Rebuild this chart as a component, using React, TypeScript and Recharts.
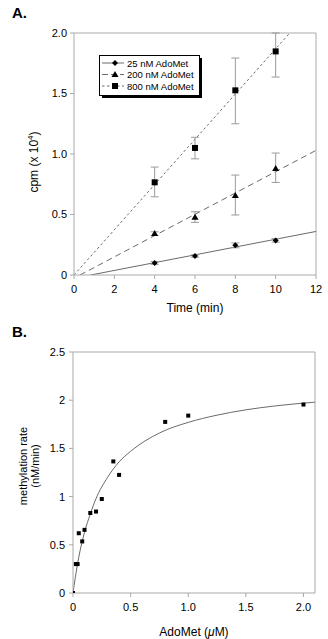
import React from "react";
import {
  ComposedChart,
  Scatter,
  Line,
  XAxis,
  YAxis,
  ErrorBar,
  ReferenceLine,
  Legend,
} from "recharts";

const FONT = "'Liberation Sans', Arial, Helvetica, sans-serif";
const AXIS_COLOR = "#a9a9a9";
const FIT_COLOR = "#6a6a6a";
const ERR_COLOR = "#9a9a9a";

// ---- Panel A: time course ----
const times = [4, 6, 8, 10];
const cpm25 = [0.1, 0.157, 0.245, 0.286];
const err25 = [0.012, 0.01, 0.02, 0.015];
const cpm200 = [0.342, 0.477, 0.656, 0.88];
const err200Lo = [0.015, 0.042, 0.16, 0.115];
const err200Hi = [0.015, 0.046, 0.17, 0.128];
const cpm800 = [0.766, 1.05, 1.526, 1.848];
const err800Lo = [0.12, 0.09, 0.276, 0.212];
const err800Hi = [0.126, 0.088, 0.267, 0.152];

const fit25Time = [0.83, 12];
const fit25Cpm = [0, 0.36];
const fit200Time = [0.3, 12];
const fit200Cpm = [0, 1.03];
const fit800Time = [0, 10.7];
const fit800Cpm = [0, 2.0];

const timeTicks = [0, 2, 4, 6, 8, 10, 12];
const cpmTicks = [0, 0.5, 1, 1.5, 2];

// ---- Panel B: saturation ----
const adoMet = [0, 0.025, 0.04, 0.05, 0.08, 0.1, 0.15, 0.2, 0.25, 0.35, 0.4, 0.8, 1.0, 2.0];
const rate = [0, 0.3, 0.3, 0.62, 0.535, 0.655, 0.83, 0.845, 0.975, 1.365, 1.225, 1.775, 1.84, 1.955];
const curveAdoMet = [0, 0.02, 0.05, 0.1, 0.15, 0.2, 0.3, 0.4, 0.5, 0.75, 1.0, 1.25, 1.5, 1.75, 2.1];
const curveRate = [0, 0.16, 0.37, 0.63, 0.82, 0.98, 1.2, 1.36, 1.47, 1.66, 1.77, 1.845, 1.9, 1.94, 1.98];

const adoTicks = [0, 0.5, 1, 1.5, 2];
const rateTicks = [0, 0.5, 1, 1.5, 2, 2.5];

const points = (xs: number[], ys: number[], lo?: number[], hi?: number[]) =>
  xs.map((x, i) => ({ x, y: ys[i], err: lo ? [lo[i], (hi ?? lo)[i]] : 0 }));

const data25 = points(times, cpm25, err25);
const data200 = points(times, cpm200, err200Lo, err200Hi);
const data800 = points(times, cpm800, err800Lo, err800Hi);
const line25 = points(fit25Time, fit25Cpm);
const line200 = points(fit200Time, fit200Cpm);
const line800 = points(fit800Time, fit800Cpm);
const dataB = points(adoMet, rate);
const curveB = points(curveAdoMet, curveRate);

const Diamond = (p: any) => (
  <polygon
    points={`${p.cx},${p.cy - 3} ${p.cx + 3},${p.cy} ${p.cx},${p.cy + 3} ${p.cx - 3},${p.cy}`}
    fill="#000"
  />
);
const Triangle = (p: any) => (
  <polygon
    points={`${p.cx},${p.cy - 3.5} ${p.cx + 3.5},${p.cy + 2.5} ${p.cx - 3.5},${p.cy + 2.5}`}
    fill="#000"
  />
);
const Square = (p: any) => <rect x={p.cx - 3} y={p.cy - 3} width={6} height={6} fill="#000" />;
const SmallSquare = (p: any) => <rect x={p.cx - 2} y={p.cy - 2} width={4} height={4} fill="#000" />;

const legendRows = [
  { name: "25 nM AdoMet", dash: undefined, Mark: Diamond },
  { name: "200 nM AdoMet", dash: "6 3", Mark: Triangle },
  { name: "800 nM AdoMet", dash: "2.5 2.5", Mark: Square },
];

function LegendBox() {
  return (
    <svg width={106} height={45} style={{ display: "block" }}>
      <rect x={3} y={3} width={100} height={40} fill="#000" />
      <rect x={0.5} y={0.5} width={100} height={40} fill="#fff" stroke="#000" />
      {legendRows.map((r, i) => {
        const y = 8 + i * 11.5;
        return (
          <g key={r.name}>
            <line x1={3} x2={25} y1={y} y2={y} stroke={FIT_COLOR} strokeDasharray={r.dash} />
            <r.Mark cx={16} cy={y} />
            <text x={28} y={y + 3.5} fontSize={9.5} fontFamily={FONT} fill="#000">
              {r.name}
            </text>
          </g>
        );
      })}
    </svg>
  );
}

const tickStyle = { fontSize: 11, fill: "#000", fontFamily: FONT };

export default function App() {
  return (
    <div
      style={{
        position: "absolute",
        left: 0,
        top: 0,
        width: 328,
        height: 639,
        background: "#fff",
        fontFamily: FONT,
      }}
    >
      <div style={{ position: "absolute", left: 12, top: 4, fontSize: 15, fontWeight: "bold" }}>A.</div>
      <div style={{ position: "absolute", left: 12, top: 323, fontSize: 15, fontWeight: "bold" }}>B.</div>

      <div style={{ position: "absolute", left: 0, top: 0 }}>
        <ComposedChart width={328} height={320} margin={{ top: 33, right: 12, bottom: 5, left: 0 }}>
          <XAxis
            type="number"
            dataKey="x"
            domain={[0, 12]}
            ticks={timeTicks}
            height={40}
            tick={tickStyle}
            tickSize={4}
            tickMargin={6}
            stroke={AXIS_COLOR}
            allowDataOverflow
            label={() => (
              <text x={195} y={311.5} textAnchor="middle" fontSize={12} fontFamily={FONT} fill="#000">
                Time (min)
              </text>
            )}
          />
          <YAxis
            type="number"
            dataKey="y"
            domain={[0, 2]}
            ticks={cpmTicks}
            width={74}
            tick={tickStyle}
            tickSize={4}
            tickMargin={3}
            stroke={AXIS_COLOR}
            allowDataOverflow
            tickFormatter={(v: number) => (v === 0 ? "0" : v.toFixed(1))}
            label={() => (
              <text
                x={38}
                y={162}
                transform="rotate(-90 38 162)"
                textAnchor="middle"
                fontSize={12}
                fontFamily={FONT}
                fill="#000"
              >
                cpm (x 10
                <tspan fontSize={8} dy={-5}>
                  4
                </tspan>
                <tspan dy={5}>)</tspan>
              </text>
            )}
          />
          <ReferenceLine y={2} stroke={AXIS_COLOR} />
          <ReferenceLine x={12} stroke={AXIS_COLOR} />
          <Line data={line25} dataKey="y" type="linear" stroke={FIT_COLOR} strokeWidth={1} dot={false} isAnimationActive={false} />
          <Line data={line200} dataKey="y" type="linear" stroke={FIT_COLOR} strokeWidth={1} strokeDasharray="6 4" dot={false} isAnimationActive={false} />
          <Line data={line800} dataKey="y" type="linear" stroke={FIT_COLOR} strokeWidth={1} strokeDasharray="2.5 2.5" dot={false} isAnimationActive={false} />
          <Scatter data={data25} dataKey="y" shape={Diamond} isAnimationActive={false}>
            <ErrorBar dataKey="err" direction="y" width={4} stroke={ERR_COLOR} strokeWidth={1} />
          </Scatter>
          <Scatter data={data200} dataKey="y" shape={Triangle} isAnimationActive={false}>
            <ErrorBar dataKey="err" direction="y" width={4} stroke={ERR_COLOR} strokeWidth={1} />
          </Scatter>
          <Scatter data={data800} dataKey="y" shape={Square} isAnimationActive={false}>
            <ErrorBar dataKey="err" direction="y" width={4} stroke={ERR_COLOR} strokeWidth={1} />
          </Scatter>
          <Legend
            layout="vertical"
            align="center"
            verticalAlign="middle"
            content={() => <LegendBox />}
            wrapperStyle={{ left: 99, top: 55, width: 106, height: 45 }}
          />
        </ComposedChart>
      </div>

      <div style={{ position: "absolute", left: 0, top: 320 }}>
        <ComposedChart width={328} height={319} margin={{ top: 32, right: 13, bottom: 5, left: 0 }}>
          <XAxis
            type="number"
            dataKey="x"
            domain={[0, 2.1]}
            ticks={adoTicks}
            height={41}
            tick={tickStyle}
            tickSize={4}
            tickMargin={6}
            stroke={AXIS_COLOR}
            allowDataOverflow
            tickFormatter={(v: number) => (v === 0 ? "0" : v.toFixed(1))}
            label={() => (
              <text x={194} y={315.5} textAnchor="middle" fontSize={12} fontFamily={FONT} fill="#000">
                AdoMet (<tspan fontStyle="italic">μ</tspan>M)
              </text>
            )}
          />
          <YAxis
            type="number"
            dataKey="y"
            domain={[0, 2.5]}
            ticks={rateTicks}
            width={73}
            tick={tickStyle}
            tickSize={4}
            tickMargin={4}
            stroke={AXIS_COLOR}
            allowDataOverflow
            label={() => (
              <text
                x={0}
                y={0}
                transform="translate(27 146) rotate(-90)"
                textAnchor="middle"
                fontSize={11}
                fontFamily={FONT}
                fill="#000"
              >
                <tspan x={0} dy={0}>methylation rate</tspan>
                <tspan x={0} dy={11.5}>(nM/min)</tspan>
              </text>
            )}
          />
          <ReferenceLine y={2.5} stroke={AXIS_COLOR} />
          <ReferenceLine x={2.1} stroke={AXIS_COLOR} />
          <Line data={curveB} dataKey="y" type="monotone" stroke={FIT_COLOR} strokeWidth={1} dot={false} isAnimationActive={false} />
          <Scatter data={dataB} dataKey="y" shape={SmallSquare} isAnimationActive={false} />
        </ComposedChart>
      </div>
    </div>
  );
}
